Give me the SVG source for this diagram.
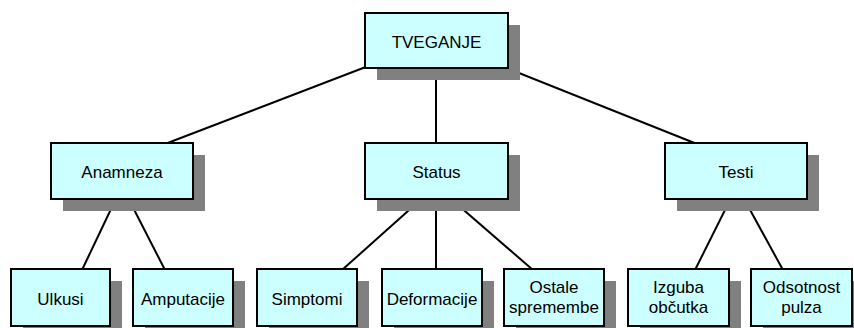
<svg xmlns="http://www.w3.org/2000/svg" width="854" height="328" viewBox="0 0 854 328">
<style>
.sh{fill:#808080}
.bx{fill:#CCFFFF;stroke:#000;stroke-width:2}
.t{font-family:"Liberation Sans",Arial,sans-serif;font-size:17px;fill:#000;text-anchor:middle}
.c{stroke:#000;stroke-width:2;fill:none}
</style>
<rect width="854" height="328" fill="#fff"/>
<g id="connectors">
<line class="c" x1="436" y1="40" x2="165" y2="144"/>
<line class="c" x1="436" y1="40" x2="436" y2="144"/>
<line class="c" x1="436" y1="40" x2="697" y2="144"/>
<line class="c" x1="122" y1="186" x2="82" y2="270"/>
<line class="c" x1="122" y1="186" x2="165" y2="270"/>
<line class="c" x1="436" y1="186" x2="342" y2="270"/>
<line class="c" x1="436" y1="186" x2="436" y2="270"/>
<line class="c" x1="436" y1="186" x2="533" y2="270"/>
<line class="c" x1="737" y1="186" x2="695" y2="270"/>
<line class="c" x1="737" y1="186" x2="783" y2="270"/>
</g>
<g id="tveganje"><rect class="sh" x="377" y="25" width="143" height="55"/><rect class="bx" x="365" y="13" width="143" height="55"/><text class="t" x="436.5" y="48">TVEGANJE</text></g>
<g id="anamneza"><rect class="sh" x="63" y="155" width="142" height="56"/><rect class="bx" x="51" y="143" width="142" height="56"/><text class="t" x="122" y="178">Anamneza</text></g>
<g id="status"><rect class="sh" x="377" y="155" width="143" height="56"/><rect class="bx" x="365" y="143" width="143" height="56"/><text class="t" x="436.5" y="178">Status</text></g>
<g id="testi"><rect class="sh" x="677" y="155" width="142" height="56"/><rect class="bx" x="665" y="143" width="142" height="56"/><text class="t" x="736" y="178">Testi</text></g>
<g id="ulkusi"><rect class="sh" x="23" y="281" width="99" height="57"/><rect class="bx" x="11" y="269" width="99" height="57"/><text class="t" x="60.5" y="305">Ulkusi</text></g>
<g id="amputacije"><rect class="sh" x="145" y="281" width="100" height="57"/><rect class="bx" x="133" y="269" width="100" height="57"/><text class="t" x="183" y="305">Amputacije</text></g>
<g id="simptomi"><rect class="sh" x="269" y="281" width="100" height="57"/><rect class="bx" x="257" y="269" width="100" height="57"/><text class="t" x="307" y="305">Simptomi</text></g>
<g id="deformacije"><rect class="sh" x="394" y="281" width="100" height="57"/><rect class="bx" x="382" y="269" width="100" height="57"/><text class="t" x="432" y="305">Deformacije</text></g>
<g id="ostale"><rect class="sh" x="516" y="281" width="100" height="57"/><rect class="bx" x="504" y="269" width="100" height="57"/><text class="t" x="554" y="293">Ostale</text><text class="t" x="554" y="313">spremembe</text></g>
<g id="izguba"><rect class="sh" x="640" y="281" width="101" height="57"/><rect class="bx" x="628" y="269" width="101" height="57"/><text class="t" x="678.5" y="293">Izguba</text><text class="t" x="678.5" y="313">občutka</text></g>
<g id="odsotnost"><rect class="sh" x="763" y="281" width="101" height="57"/><rect class="bx" x="751" y="269" width="101" height="57"/><text class="t" x="801.5" y="293">Odsotnost</text><text class="t" x="801.5" y="313">pulza</text></g>
</svg>
